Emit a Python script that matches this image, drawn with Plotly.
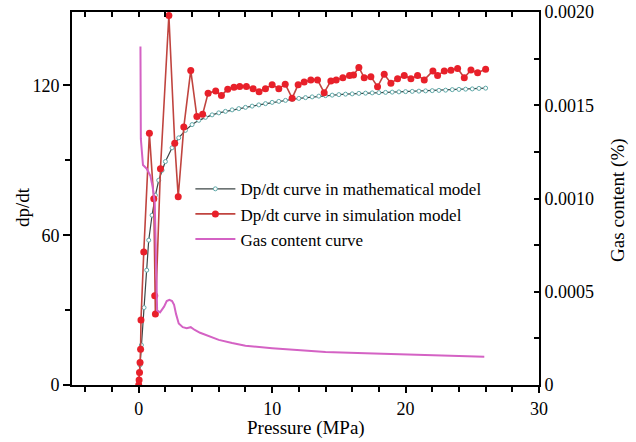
import plotly.graph_objects as go

# ---- data ----
math_x = [0, 0.1, 0.2, 0.4, 0.6, 0.75, 1.0, 1.25, 1.5, 1.75, 2.0, 2.5, 3.0, 3.5, 4.0, 4.5,
          5.0, 5.5, 6.0, 6.5, 7.0, 7.5, 8.0, 8.5, 9.0, 9.5, 10.0, 10.5, 11.0, 11.5, 12.0,
          12.5, 13.0, 13.5, 14.0, 14.5, 15.0, 15.5, 16.0, 16.5, 17.0, 17.5, 18.0, 18.5,
          19.0, 19.5, 20.0, 20.5, 21.0, 21.5, 22.0, 22.5, 23.0, 23.5, 24.0, 24.5, 25.0,
          25.5, 26.0]
math_y = [0, 8, 16, 31, 46, 58, 68, 76, 82, 86, 89.5, 95, 99, 102, 104.3, 106.0,
          107.2, 108.2, 109.0, 109.6, 110.2, 110.7, 111.2, 111.7, 112.2, 112.7, 113.2,
          113.6, 114.0, 114.4, 114.8, 115.1, 115.4, 115.7, 115.9, 116.1, 116.3, 116.5,
          116.6, 116.8, 116.9, 117.0, 117.1, 117.2, 117.3, 117.4, 117.5, 117.6, 117.7,
          117.8, 117.9, 118.0, 118.1, 118.3, 118.4, 118.5, 118.6, 118.8, 118.9]

sim_x = [0, 0.03, 0.06, 0.1, 0.14, 0.17, 0.38, 0.8, 1.13, 1.2, 1.25, 1.63, 2.26, 2.7,
         2.96, 3.38, 3.9, 4.36, 4.79, 5.2, 5.77, 6.2, 6.67, 7.14, 7.57, 8.07, 8.57, 9.02,
         9.5, 10.0, 10.5, 10.98, 11.5, 11.95, 12.4, 12.9, 13.4, 13.9, 14.4, 14.8, 15.3,
         15.8, 16.1, 16.5, 16.9, 17.4, 17.9, 18.4, 18.9, 19.4, 19.9, 20.4, 20.9, 21.4,
         22.05, 22.4, 22.9, 23.4, 23.9, 24.4, 24.9, 25.4, 26.0]
sim_y = [0, 2, 5, 9, 14.3, 26, 53.3, 100.8, 74.6, 35.7, 28.4, 86.6, 148, 96.8,
         75.4, 103.3, 126, 107.5, 108.4, 116.9, 117.8, 116, 118.5, 119.3, 119.6, 119.6,
         118.7, 117.5, 118.7, 120.3, 118.7, 120.5, 114.9, 120.3, 121.4, 122.2, 122.2,
         117.1, 121.8, 122.2, 123.1, 124, 124.2, 127.2, 123.1, 123.5, 119.5, 124.5,
         120.9, 122.7, 124, 122.7, 124, 122.2, 125.8, 124, 125.8, 126.1, 126.8, 123.1,
         126.2, 125.1, 126.5]

gas_x = [0.13, 0.13, 0.16, 0.32, 0.6, 0.88, 1.05, 1.2, 1.3, 1.38, 1.6, 1.9, 2.1, 2.3,
         2.5, 2.65, 2.8, 3.0, 3.3, 3.6, 3.9, 4.2, 4.6, 5.3, 6.0, 7.0, 8.0, 10.0, 12.0,
         14.0, 17.0, 20.0, 23.0, 25.9]
gas_y = [0.001815, 0.00150, 0.00132, 0.00118, 0.00116, 0.00112, 0.00106, 0.00098,
         0.00065, 0.00040, 0.00039, 0.00042, 0.00045, 0.000457, 0.00045, 0.00043,
         0.00038, 0.00033, 0.00031, 0.000305, 0.00031, 0.000295, 0.00028, 0.00026,
         0.000242, 0.000225, 0.00021, 0.000197, 0.000185, 0.000177, 0.00017, 0.000163,
         0.000158, 0.000152]

x_ticks = [0, 10, 20, 30]
left_ticks = [0, 60, 120]
right_ticks = [0, 0.0005, 0.0010, 0.0015, 0.0020]
right_labels = ["0", "0.0005", "0.0010", "0.0015", "0.0020"]

FONT = "Liberation Serif"

fig = go.Figure()
fig.add_trace(go.Scatter(
    x=math_x, y=math_y, mode="lines+markers",
    name="Dp/dt curve in mathematical model",
    line=dict(color="#3c4646", width=1.2),
    marker=dict(symbol="circle", size=4, color="white",
                line=dict(color="#5fa8a8", width=1)),
))
fig.add_trace(go.Scatter(
    x=sim_x, y=sim_y, mode="lines+markers",
    name="Dp/dt curve in simulation model",
    line=dict(color="#c0443f", width=1.6),
    marker=dict(symbol="circle", size=7, color="#e8202a"),
))
fig.add_trace(go.Scatter(
    x=gas_x, y=gas_y, mode="lines", yaxis="y2",
    name="Gas content curve",
    line=dict(color="#d462c4", width=2),
))
# transparent copy so that the top (mirror) axis is drawn
fig.add_trace(go.Scatter(
    x=math_x, y=math_y, mode="lines", xaxis="x2", yaxis="y",
    line=dict(color="rgba(0,0,0,0)"), showlegend=False, hoverinfo="skip",
))

tickfont = dict(family=FONT, size=18, color="black")
fig.update_layout(
    width=636, height=442,
    margin=dict(l=72, r=97, t=12, b=57, autoexpand=False),
    paper_bgcolor="white", plot_bgcolor="white",
    font=dict(family=FONT, color="black"),
    showlegend=True,
    legend=dict(x=0.2535, y=0.573, xanchor="left", yanchor="top",
                bgcolor="rgba(0,0,0,0)", font=dict(family=FONT, size=17),
                tracegroupgap=0, itemwidth=40),
    xaxis=dict(range=[-5, 30], tickvals=x_ticks, ticks="outside", ticklen=6,
               tickwidth=1.5, tickcolor="black", showline=True, linecolor="black",
               linewidth=2, showgrid=False, zeroline=False, tickfont=tickfont,
               automargin=False, ticklabeloverflow="allow",
               minor=dict(dtick=2, tick0=0, ticks="outside", ticklen=5,
                          tickwidth=1.5, tickcolor="black", showgrid=False)),
    xaxis2=dict(range=[-5, 30], overlaying="x", side="top", anchor="y",
                tickvals=x_ticks, ticks="inside", ticklen=5, tickwidth=1.5,
                tickcolor="black", showline=True, linecolor="black", linewidth=2,
                showgrid=False, zeroline=False, showticklabels=False,
                automargin=False,
                minor=dict(dtick=2, tick0=0, ticks="inside", ticklen=5,
                           tickwidth=1.5, tickcolor="black", showgrid=False)),
    yaxis=dict(range=[0, 149.4], tickvals=left_ticks, ticks="outside", ticklen=7,
               tickwidth=1.5, tickcolor="black", showline=True, linecolor="black",
               linewidth=2, showgrid=False, zeroline=False, tickfont=tickfont,
               automargin=False, ticklabeloverflow="allow",
               minor=dict(dtick=30, tick0=0, ticks="outside", ticklen=5,
                          tickwidth=1.5, tickcolor="black", showgrid=False)),
    yaxis2=dict(range=[0, 0.0020005], overlaying="y", side="right", anchor="x",
                tickvals=right_ticks, ticktext=right_labels, ticks="inside",
                ticklen=5, tickwidth=1.5, tickcolor="black", showline=True,
                linecolor="black", linewidth=2, showgrid=False, zeroline=False,
                tickfont=tickfont, automargin=False, ticklabeloverflow="allow",
                minor=dict(dtick=0.00025, tick0=0, ticks="inside", ticklen=5,
                           tickwidth=1.5, tickcolor="black", showgrid=False)),
    annotations=[
        dict(text="dp/dt", xref="paper", yref="paper", x=-0.107, y=0.477,
             textangle=-90, showarrow=False, font=dict(family=FONT, size=19),
             xanchor="center", yanchor="middle"),
        dict(text="Gas content (%)", xref="paper", yref="paper", x=1.169, y=0.496,
             textangle=-90, showarrow=False, font=dict(family=FONT, size=19),
             xanchor="center", yanchor="middle"),
        dict(text="Pressure (MPa)", xref="paper", yref="paper", x=0.5, y=-0.116,
             showarrow=False, font=dict(family=FONT, size=19),
             xanchor="center", yanchor="middle"),
    ],
)

# remove the default 8px page margin so the figure fills the window exactly
fig.write_html("out.html",
               config={"displayModeBar": False},
               post_script="document.body.style.margin='0';"
                           "document.body.style.overflow='hidden';")
